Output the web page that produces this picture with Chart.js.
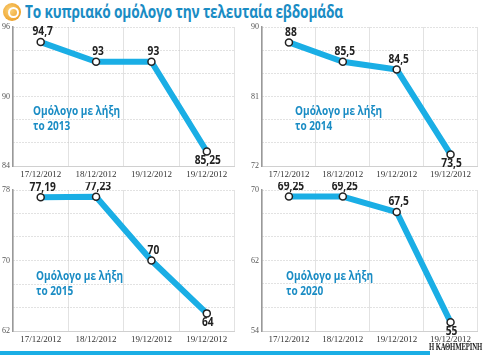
<!DOCTYPE html>
<html><head><meta charset="utf-8">
<script src="https://cdn.jsdelivr.net/npm/chart.js@4.4.0/dist/chart.umd.min.js"></script>
<style>
html,body{margin:0;padding:0;background:#fff;width:483px;height:355px;overflow:hidden;position:relative;font-family:"Open Sans",sans-serif}
.cv{position:absolute}
.fit{display:inline-block;transform-origin:0 0;white-space:nowrap}
#title{position:absolute;left:25px;top:-1px;font:bold 18px "Open Sans",sans-serif;color:#1a8cc4;letter-spacing:-0.2px}
#icon{position:absolute;left:3px;top:3px;width:18px;height:18px;border-radius:50%;background:radial-gradient(circle at 40% 40%,#fbd27a,#e8900e);}
#icon:after{content:"";position:absolute;left:5px;top:4px;width:7px;height:7px;border:2px solid #fff;border-radius:50%;}
.ann{position:absolute;font:bold 13px "Open Sans",sans-serif;color:#1a8cc4;line-height:15px}
#bar{position:absolute;left:0;top:351px;width:430px;height:4px;background:#1aaee5}
#brand{position:absolute;left:429px;top:342px;font:bold 9.5px "Liberation Serif",serif;color:#222;letter-spacing:-0.2px}
</style></head><body>
<div id="icon"></div>
<div id="title" class="fit" data-w="318">Το κυπριακό ομόλογο την τελευταία εβδομάδα</div>
<canvas id="c1" class="cv" style="left:0;top:19px" width="240" height="161"></canvas>
<canvas id="c2" class="cv" style="left:240px;top:19px" width="243" height="161"></canvas>
<canvas id="c3" class="cv" style="left:0;top:182px" width="240" height="163"></canvas>
<canvas id="c4" class="cv" style="left:240px;top:182px" width="243" height="163"></canvas>
<div class="ann fit" data-w="87" style="left:33px;top:103px">Ομόλογο με λήξη<br>το 2013</div>
<div class="ann fit" data-w="87" style="left:295px;top:103px">Ομόλογο με λήξη<br>το 2014</div>
<div class="ann fit" data-w="87" style="left:36px;top:268px">Ομόλογο με λήξη<br>το 2015</div>
<div class="ann fit" data-w="87" style="left:286px;top:268px">Ομόλογο με λήξη<br>το 2020</div>
<div id="bar"></div>
<div id="brand" class="fit" data-w="53">Η ΚΑΘΗΜΕΡΙΝΗ</div>
<script>
const categories = ['17/12/2012','18/12/2012','19/12/2012','19/12/2012'];
const bond2013 = [94.7, 93, 93, 85.25];
const bond2014 = [88, 85.5, 84.5, 73.5];
const bond2015 = [77.19, 77.23, 70, 64];
const bond2020 = [69.25, 69.25, 67.5, 55];
const ticks2013 = [84, 90, 96];
const ticks2014 = [72, 81, 90];
const ticks2015 = [62, 70, 78];
const ticks2020 = [54, 62, 70];

document.querySelectorAll('.fit').forEach(el => {
  const w = el.getBoundingClientRect().width;
  const target = parseFloat(el.dataset.w);
  el.style.transform = 'scaleX(' + (target / w) + ')';
});

const fmt = v => String(v).replace('.', ',');

const valueLabels = {
  id: 'valueLabels',
  afterDatasetsDraw(chart) {
    const ctx = chart.ctx;
    const meta = chart.getDatasetMeta(0);
    const data = chart.data.datasets[0].data;
    meta.data.forEach((pt, i) => {
      const last = i === data.length - 1;
      ctx.save();
      ctx.font = 'bold 12px "Open Sans", sans-serif';
      ctx.fillStyle = '#222';
      ctx.textAlign = 'center';
      ctx.textBaseline = last ? 'top' : 'bottom';
      ctx.translate(pt.x + (last ? 1 : 2), last ? pt.y + 3.5 : pt.y - 4);
      ctx.scale(0.85, 1);
      ctx.fillText(fmt(data[i]), 0, 0);
      ctx.restore();
    });
  }
};

function make(id, values, ticks, yw, padRight) {
  const lo = ticks[0], hi = ticks[ticks.length - 1];
  const step = (hi - lo) / 6;
  new Chart(document.getElementById(id), {
    type: 'line',
    data: { labels: categories, datasets: [{
      data: values,
      borderColor: '#1aaee5', borderWidth: 6,
      pointRadius: 3.5, pointBackgroundColor: '#fff', pointBorderColor: '#222', pointBorderWidth: 1.5,
      tension: 0, borderJoinStyle: 'round'
    }]},
    options: {
      responsive: false, animation: false,
      layout: { padding: { top: 8, right: padRight, left: 0, bottom: 0 } },
      plugins: { legend: { display: false }, tooltip: { enabled: false } },
      scales: {
        x: {
          offset: true,
          grid: { color: '#e2e2e2', lineWidth: 1, offset: true, drawTicks: false },
          border: { display: true, color: '#d0d0d0' },
          ticks: { font: { family: '"Liberation Serif", serif', size: 9 }, color: '#333', padding: 3, maxRotation: 0, autoSkip: false },
          afterFit(s) { s.height = 14; }
        },
        y: {
          min: lo, max: hi,
          grid: { color: '#c4c4c4', lineWidth: 1, drawTicks: false },
          border: { display: true, color: '#999', width: 1.5, dash: [1, 2] },
          ticks: { stepSize: step, font: { family: '"Liberation Serif", serif', size: 8 }, color: '#555', padding: 3,
            callback: v => ticks.some(t => Math.abs(t - v) < 1e-6) ? String(v) : '' },
          afterFit(s) { s.width = yw; }
        }
      }
    },
    plugins: [valueLabels]
  });
}
make('c1', bond2013, ticks2013, 13, 5);
make('c2', bond2014, ticks2014, 22, 3);
make('c3', bond2015, ticks2015, 13, 5);
make('c4', bond2020, ticks2020, 22, 3);
</script>
</body></html>
